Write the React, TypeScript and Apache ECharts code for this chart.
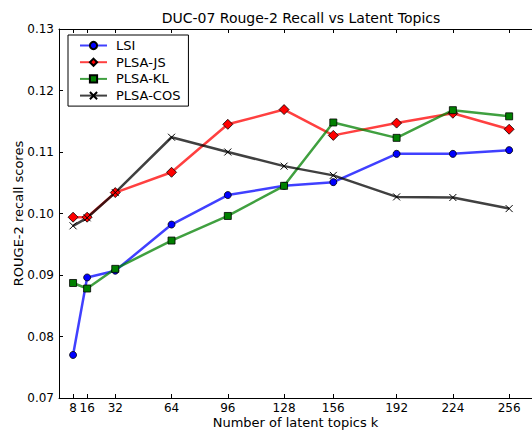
import React, { useEffect, useRef } from "react";
import * as echarts from "echarts";

const topics = [8, 16, 32, 64, 96, 128, 156, 192, 224, 256];
const lsi = [0.077, 0.0896, 0.0907, 0.0982, 0.103, 0.1045, 0.1051, 0.1097, 0.1097, 0.1103];
const plsaJS = [0.0994, 0.0994, 0.1034, 0.1067, 0.1145, 0.1169, 0.1127, 0.1147, 0.1163, 0.1137];
const plsaKL = [0.0887, 0.0878, 0.091, 0.0956, 0.0996, 0.1045, 0.1148, 0.1123, 0.1168, 0.1158];
const plsaCOS = [0.098, 0.0993, 0.1034, 0.1124, 0.11, 0.1077, 0.1062, 0.1027, 0.1026, 0.1008];
const yTicks = [0.07, 0.08, 0.09, 0.1, 0.11, 0.12, 0.13];

const FONT = "DejaVu Sans";
const X_SYMBOL = "path://M0,0L10,10M10,0L0,10";

export default function App() {
  const ref = useRef<HTMLDivElement>(null);
  useEffect(() => {
    const chart = echarts.init(ref.current!, null, { renderer: "svg" });
    const mk = (name: string, data: number[], line: string, fill: string, symbol: string, size: number, border: string) => ({
      name,
      type: "line",
      data: topics.map((t, i) => [t, data[i]]),
      symbol,
      symbolSize: size,
      lineStyle: { color: line, width: 2.5 },
      itemStyle: { color: fill, borderColor: border, borderWidth: symbol === X_SYMBOL ? 1 : 0.8 },
      emphasis: { disabled: true },
    });
    chart.setOption({
      animation: false,
      title: {
        text: "DUC-07 Rouge-2 Recall vs Latent Topics",
        left: 296,
        top: 6,
        textAlign: "center",
        textStyle: { fontFamily: FONT, fontSize: 14, fontWeight: "normal", color: "#000" },
      },
      legend: {
        orient: "vertical",
        left: 68,
        top: 35,
        padding: [4, 8, 4, 11],
        itemWidth: 27,
        itemHeight: 9,
        itemGap: 3.7,
        borderColor: "#000",
        borderWidth: 1,
        backgroundColor: "#fff",
        textStyle: { fontFamily: FONT, fontSize: 13, color: "#000", lineHeight: 13, padding: [0, 0, 0, 4] },
        data: ["LSI", "PLSA-JS", "PLSA-KL", "PLSA-COS"],
      },
      grid: { left: 59, right: 0, top: 29, bottom: 34, outerBoundsMode: "none", containLabel: false },
      xAxis: [
        {
          type: "value",
          min: 0,
          max: 269,
          name: "Number of latent topics k",
          nameLocation: "middle",
          nameGap: 18,
          nameMoveOverlap: false,
          nameTextStyle: { fontFamily: FONT, fontSize: 13, color: "#000" },
          axisLine: { lineStyle: { color: "#000", width: 1 } },
          axisTick: { inside: true, length: 4, customValues: topics, lineStyle: { color: "#000" } },
          axisLabel: { customValues: topics, fontFamily: FONT, fontSize: 12, color: "#000", margin: 4 },
          splitLine: { show: false },
        },
        {
          type: "value",
          position: "top",
          min: 0,
          max: 269,
          axisLine: { show: true, onZero: false, lineStyle: { color: "#000", width: 1 } },
          axisTick: { show: true, inside: true, length: 4, customValues: topics, lineStyle: { color: "#000" } },
          axisLabel: { show: false },
          splitLine: { show: false },
        },
      ],
      yAxis: {
        type: "value",
        min: 0.07,
        max: 0.13,
        interval: 0.01,
        name: "ROUGE-2 recall scores",
        nameLocation: "middle",
        nameRotate: 90,
        nameGap: 34,
        nameMoveOverlap: false,
        nameTextStyle: { fontFamily: FONT, fontSize: 13, color: "#000" },
        axisLine: { show: true, lineStyle: { color: "#000", width: 1 } },
        axisTick: { show: true, inside: true, length: 4, customValues: yTicks, lineStyle: { color: "#000" } },
        axisLabel: {
          customValues: yTicks,
          fontFamily: FONT,
          fontSize: 12,
          color: "#000",
          margin: 5,
          formatter: (v: number) => v.toFixed(2),
        },
        splitLine: { show: false },
      },
      series: [
        mk("LSI", lsi, "rgba(0,0,255,0.75)", "#0000ff", "circle", 7, "#000"),
        mk("PLSA-JS", plsaJS, "rgba(255,0,0,0.75)", "#ff0000", "diamond", 10, "#000"),
        mk("PLSA-KL", plsaKL, "rgba(0,128,0,0.75)", "#008000", "rect", 7, "#000"),
        mk("PLSA-COS", plsaCOS, "rgba(0,0,0,0.75)", "#000", X_SYMBOL, 7, "#000"),
      ],
    });
    return () => chart.dispose();
  }, []);
  return <div ref={ref} style={{ width: 532, height: 432, position: "absolute", left: 0, top: 0 }} />;
}
